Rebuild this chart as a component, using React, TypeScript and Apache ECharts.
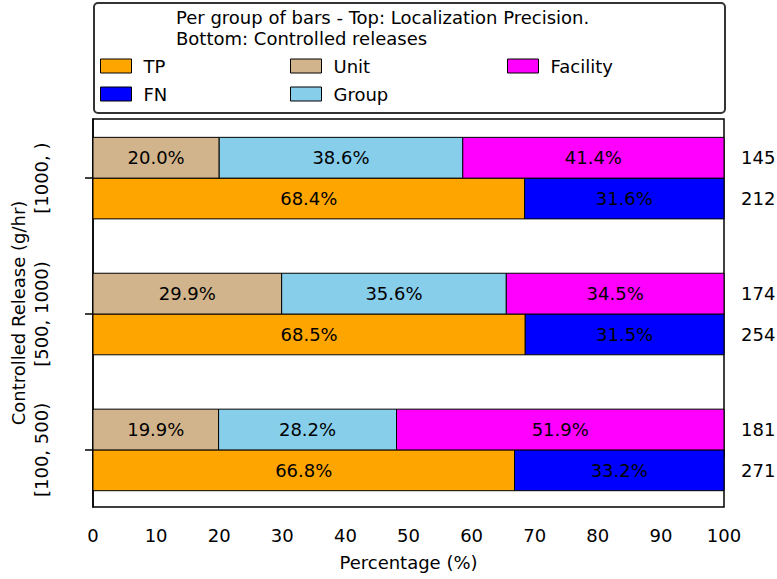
import React, { useEffect, useRef } from "react";
import * as echarts from "echarts";

const categories = ["[100, 500)", "[500, 1000)", "[1000, )"];
const tpValues = [66.8, 68.5, 68.4];
const fnValues = [33.2, 31.5, 31.6];
const unitValues = [19.9, 29.9, 20.0];
const groupValues = [28.2, 35.6, 38.6];
const facilityValues = [51.9, 34.5, 41.4];
const detectionCounts = [271, 254, 212];
const localizationCounts = [181, 174, 145];
const xTicks = [0, 10, 20, 30, 40, 50, 60, 70, 80, 90, 100];

const FONT = "DejaVu Sans";
const FS = 18;
const BAR_H = 0.3;

type Seg = { name: string; color: string; values: number[]; starts: number[]; top: boolean; counts: number[] | null };

function starts(...prev: number[][]): number[] {
  return categories.map((_, i) => prev.reduce((s, a) => s + a[i], 0));
}

const segments: Seg[] = [
  { name: "TP", color: "#FFA500", values: tpValues, starts: starts(), top: false, counts: null },
  { name: "FN", color: "#0000FF", values: fnValues, starts: starts(tpValues), top: false, counts: detectionCounts },
  { name: "Unit", color: "#D2B48C", values: unitValues, starts: starts(), top: true, counts: null },
  { name: "Group", color: "#87CEEB", values: groupValues, starts: starts(unitValues), top: true, counts: null },
  { name: "Facility", color: "#FF00FF", values: facilityValues, starts: starts(unitValues, groupValues), top: true, counts: localizationCounts },
];

export default function App() {
  const ref = useRef<HTMLDivElement>(null);
  useEffect(() => {
    if (!ref.current) return;
    const chart = echarts.init(ref.current, null, { renderer: "svg" });

    const series = segments.map((seg) => ({
      type: "custom",
      name: seg.name,
      itemStyle: { color: seg.color, borderColor: "#000", borderWidth: 1 },
      encode: { x: [1, 2], y: 0 },
      data: categories.map((_, i) => [i, seg.starts[i], seg.values[i], seg.counts ? seg.counts[i] : -1]),
      renderItem: (params: any, api: any) => {
        const cat = api.value(0);
        const start = api.value(1);
        const len = api.value(2);
        const cnt = api.value(3);
        const yTop = seg.top ? cat + BAR_H : cat;
        const yBot = seg.top ? cat : cat - BAR_H;
        const p0 = api.coord([start, yTop]);
        const p1 = api.coord([start + len, yBot]);
        const children: any[] = [
          {
            type: "rect",
            shape: { x: p0[0], y: p0[1], width: p1[0] - p0[0], height: p1[1] - p0[1] },
            style: { fill: seg.color, stroke: "#000", lineWidth: 1 },
          },
          {
            type: "text",
            x: (p0[0] + p1[0]) / 2,
            y: (p0[1] + p1[1]) / 2,
            style: {
              text: len.toFixed(1) + "%",
              fill: "#000",
              font: `${FS}px "${FONT}"`,
              align: "center",
              verticalAlign: "middle",
            },
          },
        ];
        if (cnt >= 0) {
          children.push({
            type: "text",
            x: p1[0] + 17,
            y: (p0[1] + p1[1]) / 2,
            style: {
              text: String(cnt),
              fill: "#000",
              font: `${FS}px "${FONT}"`,
              align: "left",
              verticalAlign: "middle",
            },
          });
        }
        return { type: "group", children };
      },
    }));

    const legendCommon = {
      orient: "vertical",
      icon: "rect",
      itemWidth: 31,
      itemHeight: 14,
      itemGap: 10,
      padding: 0,
      selectedMode: false,
      textStyle: { fontFamily: FONT, fontSize: FS, color: "#000", padding: [0, 0, 0, 7] },
      itemStyle: { borderColor: "#000", borderWidth: 1 },
    };

    chart.setOption({
      animation: false,
      textStyle: { fontFamily: FONT },
      grid: {
        left: 93,
        right: 53,
        top: 119,
        bottom: 72,
        show: true,
        borderColor: "#000",
        borderWidth: 1.5,
        backgroundColor: "transparent",
      },
      legend: [
        { ...legendCommon, left: 100, top: 57, data: ["TP", "FN"] },
        { ...legendCommon, left: 290, top: 57, data: ["Unit", "Group"] },
        { ...legendCommon, left: 507, top: 57, data: ["Facility"] },
      ],
      graphic: [
        {
          type: "rect",
          left: 93,
          top: 2,
          shape: { width: 631, height: 110, r: 4 },
          style: { fill: "#fff", stroke: "#333", lineWidth: 2 },
          z: -1,
        },
        {
          type: "text",
          left: 176,
          top: 7,
          style: {
            text: "Per group of bars - Top: Localization Precision.\nBottom: Controlled releases",
            font: `${FS}px "${FONT}"`,
            lineHeight: 21,
            fill: "#000",
          },
        },
      ],
      xAxis: {
        type: "value",
        min: 0,
        max: 100,
        interval: 10,
        name: "Percentage (%)",
        nameLocation: "middle",
        nameGap: 46,
        nameMoveOverlap: false,
        nameTextStyle: { fontSize: FS, color: "#000", fontFamily: FONT },
        axisLine: { show: true, lineStyle: { color: "#000", width: 1.5 } },
        axisTick: { show: true, length: 8, lineStyle: { color: "#000", width: 1.5 } },
        axisLabel: {
          fontSize: FS,
          color: "#000",
          margin: 19,
          fontFamily: FONT,
          customValues: xTicks,
        },
        splitLine: { show: false },
      },
      yAxis: {
        type: "value",
        min: -0.42,
        max: 2.435,
        name: "Controlled Release (g/hr)",
        nameLocation: "middle",
        nameRotate: 90,
        nameGap: 66,
        nameMoveOverlap: false,
        nameTextStyle: { fontSize: FS, color: "#000", fontFamily: FONT },
        axisLine: { show: true, lineStyle: { color: "#000", width: 1.5 } },
        axisTick: { show: true, length: 8, lineStyle: { color: "#000", width: 1.5 }, customValues: [0, 1, 2] },
        axisLabel: {
          fontSize: FS,
          color: "#000",
          rotate: 90,
          margin: 43,
          fontFamily: FONT,
          hideOverlap: false,
          customValues: [0, 1, 2],
          formatter: (v: number) => categories[Math.round(v)] ?? "",
        },
        splitLine: { show: false },
      },
      series,
    });
    return () => chart.dispose();
  }, []);
  return <div ref={ref} style={{ position: "absolute", left: 0, top: 0, width: 777, height: 579 }} />;
}
